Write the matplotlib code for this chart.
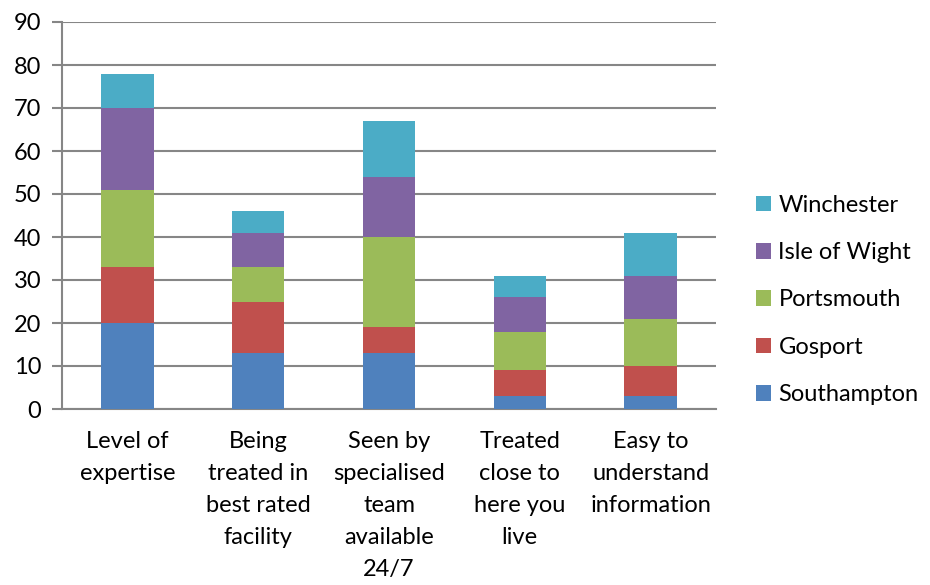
import numpy as np
import matplotlib.pyplot as plt
from matplotlib.patches import Patch

plt.rcParams['font.family'] = ['Lato', 'DejaVu Sans']

categories = ['Level of\nexpertise', 'Being\ntreated in\nbest rated\nfacility',
              'Seen by\nspecialised\nteam\navailable\n24/7', 'Treated\nclose to\nhere you\nlive',
              'Easy to\nunderstand\ninformation']
series = ['Southampton', 'Gosport', 'Portsmouth', 'Isle of Wight', 'Winchester']
southampton = [20, 13, 13, 3, 3]
gosport = [13, 12, 6, 6, 7]
portsmouth = [18, 8, 21, 9, 11]
isle_of_wight = [19, 8, 14, 8, 10]
winchester = [8, 5, 13, 5, 10]
colors = ['#4F81BD', '#C0504D', '#9BBB59', '#8064A2', '#4BACC6']

values = [southampton, gosport, portsmouth, isle_of_wight, winchester]

fig = plt.figure(figsize=(9.3, 5.85), dpi=100)
ax = fig.add_axes([62 / 930, 1 - 409 / 585, (716 - 62) / 930, (409 - 22) / 585])

x = np.arange(len(categories))
bottom = np.zeros(len(categories))
for name, vals, c in zip(series, values, colors):
    ax.bar(x, vals, width=0.4, bottom=bottom, color=c, label=name, zorder=3)
    bottom += np.array(vals)

ax.set_xlim(-0.5, 4.5)
ax.set_ylim(0, 90)
ax.set_yticks(range(0, 91, 10))
ax.yaxis.grid(True, color='#868686', linewidth=1.5, zorder=0)
ax.set_xticks(x)
ax.set_xticklabels(categories, linespacing=1.64, fontsize=17)
ax.tick_params(axis='x', length=0, pad=16)
ax.tick_params(axis='y', length=7, width=1.5, color='#868686', labelsize=17, pad=8)
for s in ['top', 'right']:
    ax.spines[s].set_visible(False)
for s in ['left', 'bottom']:
    ax.spines[s].set_color('#868686')
    ax.spines[s].set_linewidth(1.5)

handles = [Patch(facecolor=c, label=n) for n, c in zip(series, colors)][::-1]
fig.legend(handles=handles, loc='center left', bbox_to_anchor=(735 / 930, 1 - 300 / 585),
           frameon=False, fontsize=17, handlelength=0.64, handleheight=0.64,
           handletextpad=0.3, labelspacing=1.12)

fig.savefig('out.png', dpi=100)
